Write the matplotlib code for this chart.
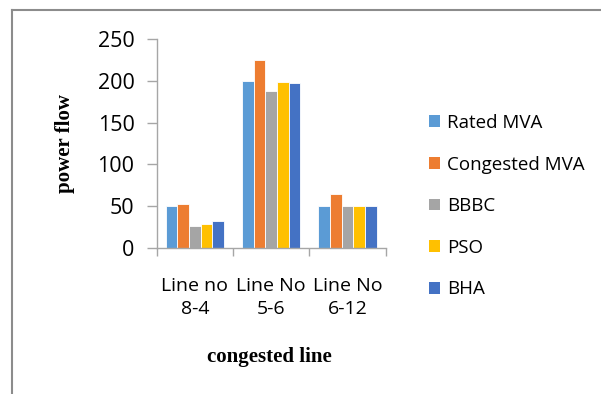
import matplotlib
matplotlib.use("Agg")
import matplotlib.pyplot as plt
from matplotlib.patches import Patch
from matplotlib.lines import Line2D
import numpy as np

categories = ["Line no\n8-4", "Line No\n5-6", "Line No\n6-12"]
series_names = ["Rated MVA", "Congested MVA", "BBBC", "PSO", "BHA"]
rated_mva = [50, 200, 50]
congested_mva = [53, 225, 64]
bbbc = [26, 188, 50]
pso = [29, 199, 49.5]
bha = [32, 197.5, 50]
colors = ["#5B9BD5", "#ED7D31", "#A5A5A5", "#FFC000", "#4472C4"]
yticks = [0, 50, 100, 150, 200, 250]

series = [rated_mva, congested_mva, bbbc, pso, bha]

tick_font = "Open Sans"
fig = plt.figure(figsize=(6.01, 3.94), dpi=100)
ax = fig.add_axes([0.2607, 0.3713, 0.642 - 0.2607, 0.900 - 0.3713])

x = np.arange(len(categories)) + 0.5
w = 0.153
for i, (vals, c) in enumerate(zip(series, colors)):
    ax.bar(x + (i - 2) * w, vals, width=w, color=c, edgecolor="white",
           linewidth=0.6, label=series_names[i], zorder=2)

ax.set_xlim(0, 3)
ax.set_ylim(0, 250)
ax.set_yticks(yticks)
ax.set_yticklabels([str(t) for t in yticks], fontfamily=tick_font, fontsize=15.5)
ax.set_xticks([0, 1, 2, 3])
ax.set_xticklabels([])
ax.set_xticks(x, minor=True)
ax.set_xticklabels(categories, minor=True, fontfamily=tick_font, fontsize=14,
                   linespacing=1.4)
ax.tick_params(axis="x", which="minor", length=0, pad=21)
ax.tick_params(axis="x", which="major", length=6, color="#A6A6A6", width=1)
ax.tick_params(axis="y", length=7, color="#A6A6A6", width=1, pad=9)
for s in ["top", "right"]:
    ax.spines[s].set_visible(False)
for s in ["left", "bottom"]:
    ax.spines[s].set_color("#A6A6A6")
    ax.spines[s].set_linewidth(1)

ax.set_ylabel("power flow", fontfamily="Liberation Serif", fontweight="bold",
              fontsize=15)
ax.yaxis.set_label_coords(-0.355, 0.5)
fig.text(0.449, (394 - 357) / 394, "congested line", fontfamily="Liberation Serif",
         fontweight="bold", fontsize=15, ha="center", va="center")

handles = [Patch(facecolor=c, edgecolor="none") for c in colors]
fig.legend(handles, series_names, loc="upper left",
           bbox_to_anchor=(412 / 601, 1 - 97 / 394), frameon=False,
           prop={"family": tick_font, "size": 13.5}, handlelength=0.6,
           handleheight=0.6, handletextpad=0.35, labelspacing=1.26)

# outer frame (partially visible)
fig.add_artist(Line2D([12 / 601, 12 / 601], [0, 1 - 10 / 394],
                      transform=fig.transFigure, color="#8C8C8C", linewidth=1.5))
fig.add_artist(Line2D([12 / 601, 1], [1 - 10 / 394, 1 - 10 / 394],
                      transform=fig.transFigure, color="#8C8C8C", linewidth=1.5))

fig.savefig("out.png", dpi=100)
